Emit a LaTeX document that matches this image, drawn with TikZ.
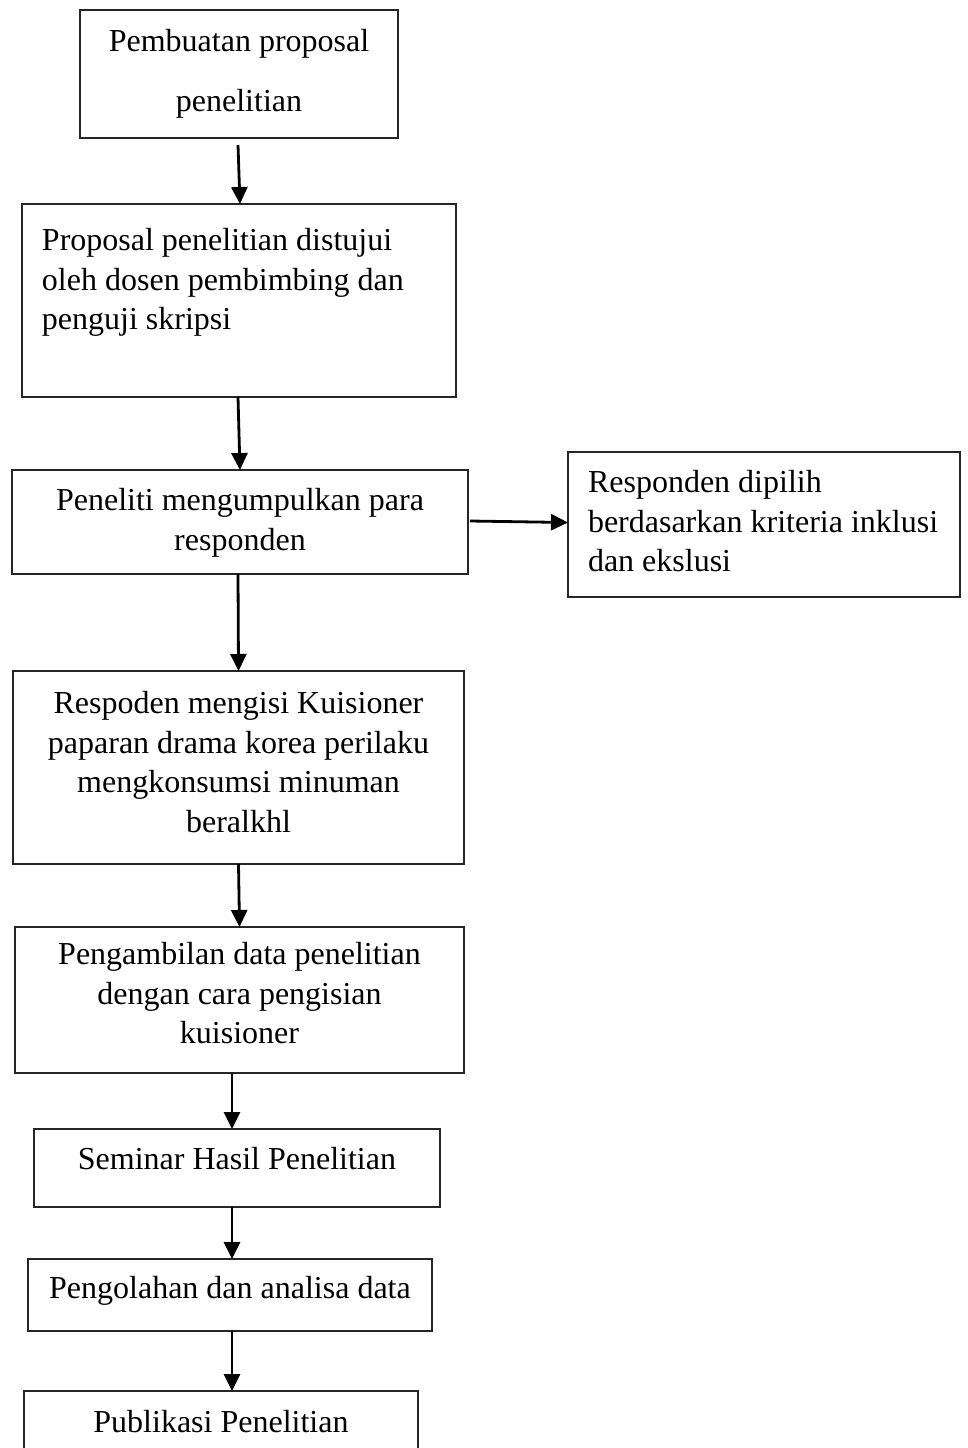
\documentclass[tikz,border=0pt]{standalone}
\usepackage{fontspec}
\setmainfont{Liberation Serif}
\usetikzlibrary{arrows.meta}
\newcommand{\ctext}[4]{\parbox[c][#2pt][t]{#1pt}{\centering\vspace*{#3pt}\strut #4}}
\newcommand{\ltext}[4]{\parbox[c][#2pt][t]{#1pt}{\raggedright\leftskip=20pt\vspace*{#3pt}\strut #4}}
\begin{document}
\begin{tikzpicture}[x=1pt,y=-1pt,
  box/.style={draw=black!85, line width=1.1pt, inner sep=0pt, outer sep=0pt,
    anchor=north west, font=\fontsize{32pt}{39.5pt}\selectfont},
  arr/.style={line width=2.8pt, -{Triangle[length=17pt,width=16pt]}}]
\useasboundingbox (0,0) rectangle (968,1448);
\clip (0,0) rectangle (968,1448);
\fill[white] (0,0) rectangle (968,1448);

\node[box] (b1) at (80,10) {\ctext{318}{128}{14}{Pembuatan proposal\\[20.5pt] penelitian}};
\node[box] (b2) at (22,204) {\ltext{434}{193}{19}{Proposal penelitian distujui\\ oleh dosen pembimbing dan\\ penguji skripsi}};
\node[box] (b3) at (12,470) {\ctext{456}{104}{13}{Peneliti mengumpulkan para\\ responden}};
\node[box] (b4) at (568,452) {\ltext{392}{145}{13}{Responden dipilih\\ berdasarkan kriteria inklusi\\ dan ekslusi}};
\node[box] (b5) at (13,671) {\ctext{451}{193}{15}{Respoden mengisi Kuisioner\\ paparan drama korea perilaku\\ mengkonsumsi minuman\\ beralkhl}};
\node[box] (b6) at (15,927) {\ctext{449}{146}{10}{Pengambilan data penelitian\\ dengan cara pengisian\\ kuisioner}};
\node[box] (b7) at (34,1129) {\ctext{406}{78}{13}{Seminar Hasil Penelitian}};
\node[box] (b8) at (28,1259) {\ctext{404}{72}{12}{Pengolahan dan analisa data}};
\node[box] (b9) at (24,1391) {\ctext{394}{90}{14}{Publikasi Penelitian}};

\draw[arr] ([xshift=-1pt,yshift=-7pt]b1.south) -- ([xshift=1pt]b2.north);
\draw[arr] ([xshift=-1pt]b2.south) -- (b3.north);
\draw[arr] ([xshift=2pt,yshift=1pt]b3.east) -- ([yshift=2pt]b4.west);
\draw[arr] ([xshift=-2pt]b3.south) -- (b5.north);
\draw[arr] (b5.south) -- (b6.north);
\draw[arr] ([xshift=-7.5pt]b6.south) -- ([xshift=-5pt]b7.north);
\draw[arr] ([xshift=-5pt]b7.south) -- ([xshift=2pt]b8.north);
\draw[arr] ([xshift=2pt]b8.south) -- ([xshift=11pt]b9.north);
\end{tikzpicture}
\end{document}
